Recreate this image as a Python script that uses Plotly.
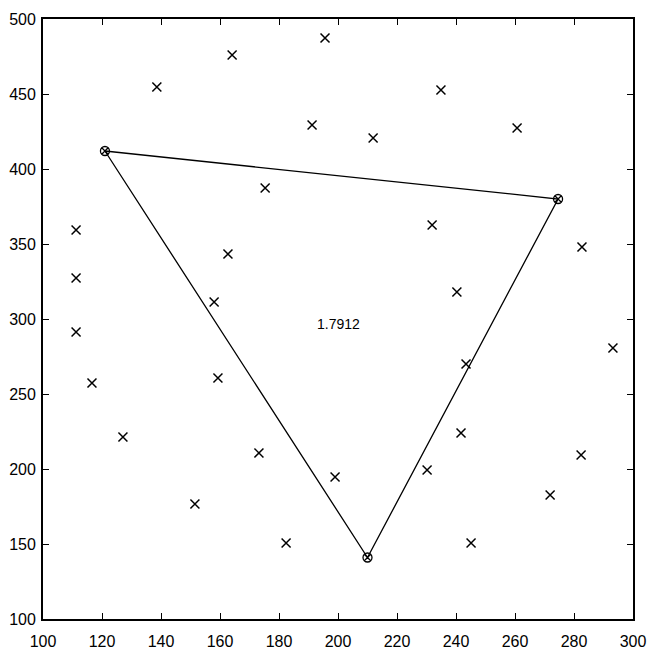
import plotly.graph_objects as go

# Scattered sample points
pts_x = [138.6, 164.1, 195.6, 234.9, 191.2, 211.9, 260.7, 175.3, 231.9, 111.2,
         111.2, 111.2, 162.7, 158.0, 282.7, 240.3, 159.3, 243.4, 116.6, 127.1,
         173.2, 199.0, 241.7, 230.2, 282.4, 271.9, 151.5, 182.4, 245.1, 293.2]
pts_y = [454.7, 476.0, 487.3, 452.7, 429.3, 420.7, 427.3, 387.3, 362.7, 359.3,
         327.3, 291.3, 343.3, 311.3, 348.0, 318.0, 260.7, 270.0, 257.3, 221.3,
         210.7, 194.7, 224.0, 199.3, 209.3, 182.7, 176.7, 150.7, 150.7, 280.7]

# Triangle vertices
tri_x = [121.0, 274.6, 210.0]
tri_y = [412.0, 380.0, 141.0]

label_text = "1.7912"
label_x, label_y = 200.0, 297.0

x_ticks = list(range(100, 301, 20))
y_ticks = list(range(100, 501, 50))

tick_font = dict(family="Liberation Sans, Arial, sans-serif", size=16, color="black")

fig = go.Figure()

fig.add_trace(go.Scatter(
    x=pts_x, y=pts_y, mode="markers",
    marker=dict(symbol="x-thin-open", size=9, color="black",
                line=dict(color="black", width=1.5)),
    hoverinfo="skip", showlegend=False))

fig.add_trace(go.Scatter(
    x=tri_x + [tri_x[0]], y=tri_y + [tri_y[0]], mode="lines",
    line=dict(color="black", width=1.3),
    hoverinfo="skip", showlegend=False))

fig.add_trace(go.Scatter(
    x=tri_x, y=tri_y, mode="markers",
    marker=dict(symbol="circle-x-open", size=9, color="black",
                line=dict(color="black", width=1.3)),
    hoverinfo="skip", showlegend=False))

fig.add_annotation(x=label_x, y=label_y, text=label_text, showarrow=False,
                   font=dict(family="Liberation Sans, Arial, sans-serif",
                             size=14, color="black"))

axis_common = dict(
    showgrid=False, zeroline=False, showline=True, linecolor="black",
    linewidth=1.8, mirror="ticks", ticks="inside", ticklen=6,
    tickcolor="black", tickwidth=1.2, tickfont=tick_font,
    ticklabeloverflow="allow", automargin=False,
)

fig.update_xaxes(range=[100, 300], tickvals=x_ticks,
                 ticktext=[str(v) for v in x_ticks], ticklabelstandoff=7,
                 **axis_common)
fig.update_yaxes(range=[100, 500], tickvals=y_ticks,
                 ticktext=[str(v) for v in y_ticks], ticklabelstandoff=2,
                 **axis_common)

fig.update_layout(
    width=651, height=650,
    margin=dict(l=43, r=18, t=19, b=31, autoexpand=False),
    paper_bgcolor="white", plot_bgcolor="white",
)

fig.write_html("out.html")
